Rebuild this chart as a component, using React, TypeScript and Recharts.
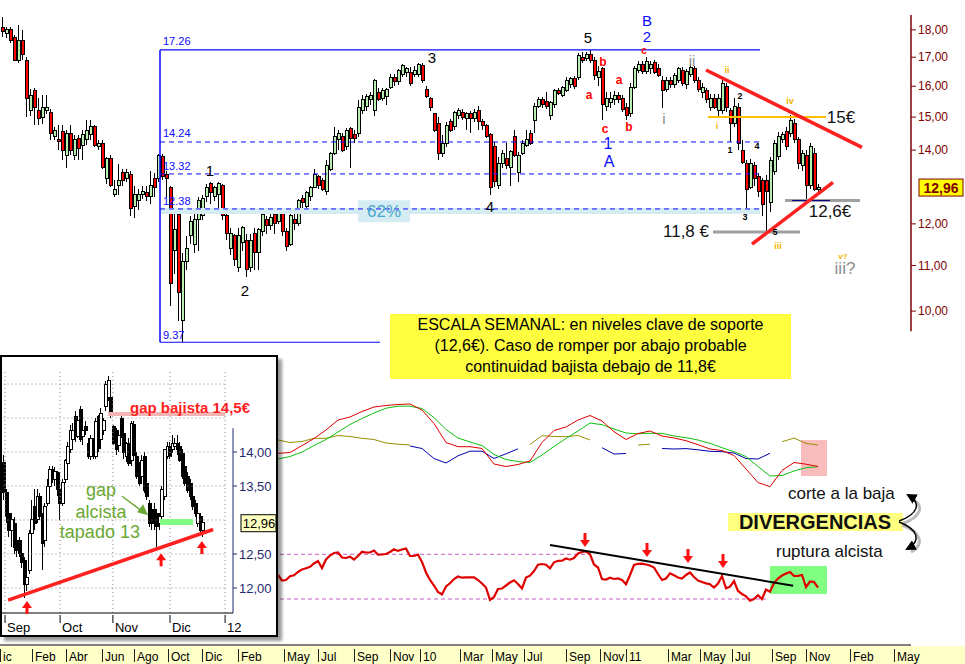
import React from 'react'
import {
  Bar,
  ComposedChart,
  Line,
  ReferenceArea,
  ReferenceDot,
  ReferenceLine,
  XAxis,
  YAxis,
} from 'recharts'

const FONT = "'Liberation Sans', Arial, sans-serif"
const NARROW = "'Liberation Sans Narrow', 'Arial Narrow', 'Liberation Sans', Arial, sans-serif"

// weekly candles, one per week (index = week)
const weekOpen = [
  18.1, 17.85, 18.0, 17.7, 16.9, 17.6, 16.9, 15.2, 15.85, 15.2,
  15.0, 15.2, 15.15, 14.4, 14.3, 14.55, 13.85, 14.5, 13.85, 14.35,
  14.15, 14.3, 14.45, 14.7, 14.1, 14.2, 13.2, 13.75, 12.75, 13.0,
  13.35, 13.2, 13.3, 12.45, 12.6, 12.75, 12.8, 12.7, 13.2, 13.2,
  13.8, 13.3, 12.95, 11.35, 12.25, 9.8, 11.1, 11.7, 11.5, 12.1,
  12.2, 12.7, 13.05, 12.7, 12.75, 13.0, 12.2, 11.4, 11.7, 10.95,
  11.55, 11.6, 10.95, 11.75, 11.3, 11.8, 12.1, 11.95, 12.25, 12.05,
  12.35, 11.8, 11.5, 12.1, 12.0, 12.65, 12.45, 12.7, 12.95, 13.25,
  13.15, 12.85, 13.45, 13.9, 14.3, 14.4, 14.1, 14.65, 14.45, 14.5,
  15.2, 15.35, 15.55, 15.2, 15.8, 15.6, 15.65, 15.95, 16.3, 16.15,
  16.4, 16.45, 16.45, 16.4, 16.4, 16.7, 15.9, 15.6, 15.1, 14.8,
  13.9, 14.2, 14.85, 14.7, 15.05, 15.15, 14.95, 15.1, 14.95, 15.2,
  14.85, 14.75, 14.45, 14.1, 13.0, 13.6, 13.75, 13.5, 14.4, 13.35,
  13.9, 14.15, 14.5, 14.9, 15.35, 15.55, 15.5, 15.05, 15.4, 15.85,
  15.7, 15.85, 16.05, 16.25, 16.3, 17.0, 16.95, 17.1, 16.9, 16.3,
  16.6, 15.35, 15.45, 15.55, 15.7, 15.6, 15.3, 15.1, 15.95, 16.55,
  16.75, 16.5, 16.6, 16.8, 16.6, 16.2, 15.9, 16.2, 16.05, 16.2,
  16.55, 16.05, 16.4, 16.6, 16.2, 15.8, 15.85, 15.3, 15.6, 15.2,
  15.2, 16.0, 15.2, 14.8, 15.3, 14.0, 13.6, 12.95, 13.55, 13.25,
  13.15, 13.15, 12.55, 13.4, 13.8, 14.3, 14.55, 14.5, 14.8, 14.3,
  13.55, 13.85, 13.0, 13.9, 12.9,
]
const weekHigh = [
  18.5, 18.1, 18.1, 17.8, 18.2, 18.0, 17.0, 15.9, 15.95, 15.6,
  15.7, 15.7, 15.25, 14.7, 14.75, 14.75, 14.6, 14.75, 14.45, 14.45,
  14.6, 14.9, 14.9, 14.75, 14.3, 14.3, 13.8, 13.85, 13.15, 13.6,
  13.45, 13.45, 13.4, 13.0, 12.9, 13.0, 13.0, 13.4, 13.35, 13.9,
  13.9, 13.4, 13.0, 12.4, 12.35, 11.3, 11.7, 12.2, 12.25, 12.7,
  12.75, 13.05, 13.1, 13.0, 13.1, 13.05, 12.25, 11.9, 11.75, 11.9,
  11.95, 11.75, 11.75, 11.9, 11.9, 12.3, 12.2, 12.25, 12.35, 12.4,
  12.4, 11.9, 12.25, 12.25, 12.65, 12.75, 12.85, 13.0, 13.45, 13.3,
  13.2, 13.7, 13.95, 14.7, 14.6, 14.5, 14.65, 14.7, 14.6, 15.55,
  15.7, 15.75, 15.8, 16.25, 15.95, 15.95, 15.95, 16.4, 16.4, 16.6,
  16.75, 16.65, 16.65, 16.7, 16.8, 16.8, 16.0, 15.65, 15.1, 15.0,
  14.45, 14.85, 14.95, 15.2, 15.3, 15.25, 15.15, 15.2, 15.25, 15.35,
  14.95, 14.8, 14.5, 14.25, 13.8, 14.0, 14.2, 14.0, 14.6, 13.95,
  14.3, 14.6, 14.6, 15.45, 15.65, 15.65, 15.8, 15.5, 15.9, 15.95,
  16.0, 16.3, 16.3, 16.35, 17.15, 17.2, 17.2, 17.26, 17.0, 16.7,
  16.65, 15.8, 15.8, 15.85, 15.8, 15.7, 15.45, 16.1, 16.7, 16.85,
  16.85, 17.0, 16.85, 16.9, 16.75, 16.35, 16.3, 16.3, 16.45, 16.65,
  16.65, 16.6, 16.75, 16.7, 16.3, 16.1, 15.95, 15.75, 15.75, 15.75,
  16.2, 16.1, 15.3, 15.6, 15.45, 14.3, 13.7, 13.75, 13.65, 13.35,
  13.2, 13.3, 13.8, 14.3, 14.55, 14.55, 14.7, 15.07, 14.95, 14.4,
  14.0, 14.0, 14.2, 14.05, 13.05,
]
const weekLow = [
  17.75, 17.7, 17.5, 16.85, 16.8, 16.9, 15.0, 15.05, 14.75, 14.75,
  14.8, 15.1, 14.3, 14.3, 14.0, 13.7, 13.5, 13.85, 13.7, 13.7,
  13.7, 14.15, 14.3, 14.1, 14.0, 13.45, 13.05, 12.95, 12.7, 12.75,
  13.0, 13.1, 12.2, 12.15, 12.35, 12.65, 12.6, 12.5, 12.7, 13.1,
  13.15, 12.7, 10.1, 10.8, 9.8, 9.37, 10.9, 11.5, 11.3, 11.35,
  12.1, 12.55, 12.5, 12.6, 12.35, 12.1, 11.6, 11.25, 11.0, 10.85,
  11.35, 10.75, 10.85, 10.9, 10.9, 11.7, 11.75, 11.85, 11.75, 12.0,
  11.7, 11.35, 11.45, 11.85, 11.95, 12.4, 12.35, 12.6, 12.95, 12.9,
  12.85, 12.75, 13.4, 13.85, 14.0, 13.95, 14.0, 13.5, 14.2, 14.4,
  15.1, 15.2, 15.4, 15.05, 15.5, 15.5, 15.4, 15.9, 16.0, 16.05,
  16.3, 16.3, 16.0, 16.3, 16.3, 16.1, 15.6, 15.2, 14.55, 13.7,
  13.8, 14.1, 14.55, 14.6, 14.95, 14.9, 14.6, 14.5, 14.85, 14.6,
  14.6, 14.35, 12.75, 12.95, 12.9, 13.5, 13.45, 13.0, 13.8, 13.1,
  13.85, 14.1, 14.15, 14.5, 15.3, 15.3, 15.25, 14.9, 15.3, 15.7,
  15.65, 15.8, 15.95, 15.9, 16.2, 16.8, 16.85, 16.8, 16.2, 16.0,
  14.9, 15.2, 15.3, 15.4, 15.45, 15.15, 14.9, 15.0, 15.9, 16.45,
  16.4, 16.4, 16.4, 16.4, 16.3, 15.3, 15.8, 15.95, 15.95, 16.1,
  16.0, 15.9, 16.3, 16.1, 15.8, 15.6, 15.45, 15.2, 15.25, 15.0,
  15.1, 15.15, 14.25, 14.7, 14.0, 13.6, 12.35, 12.9, 13.0, 12.7,
  12.2, 11.8, 12.3, 13.3, 13.7, 14.2, 14.0, 14.4, 14.2, 13.45,
  13.4, 12.6, 12.9, 12.85, 12.8,
]
const weekClose = [
  17.95, 18.0, 17.6, 16.9, 17.6, 17.1, 15.6, 15.7, 15.3, 14.95,
  15.3, 15.3, 14.5, 14.6, 14.25, 14.0, 14.5, 14.0, 14.3, 14.05,
  14.45, 14.6, 14.7, 14.15, 14.2, 13.5, 13.75, 13.0, 12.9, 13.15,
  13.15, 13.35, 12.4, 12.75, 12.75, 12.85, 12.7, 13.0, 12.95, 13.85,
  13.25, 13.2, 10.6, 11.85, 10.4, 11.1, 11.4, 12.05, 12.1, 12.6,
  12.65, 12.95, 12.8, 12.95, 13.05, 12.2, 11.75, 11.75, 11.15, 11.7,
  11.9, 10.9, 11.6, 11.3, 11.85, 12.25, 11.95, 12.15, 12.0, 12.35,
  11.8, 11.45, 12.2, 12.0, 12.6, 12.55, 12.8, 12.95, 13.3, 13.0,
  12.9, 13.55, 13.9, 14.4, 14.5, 14.0, 14.6, 14.35, 14.35, 15.3,
  15.55, 15.65, 15.7, 16.2, 15.55, 15.85, 15.9, 16.3, 16.15, 16.55,
  16.7, 16.6, 16.1, 16.55, 16.75, 16.2, 15.65, 15.3, 14.6, 13.9,
  14.2, 14.75, 14.6, 15.15, 15.2, 15.0, 15.1, 14.95, 15.15, 14.85,
  14.75, 14.4, 12.95, 13.1, 13.6, 13.9, 13.55, 13.95, 13.85, 13.85,
  14.2, 14.3, 14.2, 15.35, 15.55, 15.4, 15.35, 15.45, 15.85, 15.75,
  15.95, 16.2, 16.25, 16.0, 17.05, 16.9, 17.1, 16.9, 16.35, 16.5,
  15.4, 15.6, 15.6, 15.7, 15.55, 15.25, 15.05, 15.95, 16.6, 16.75,
  16.5, 16.85, 16.75, 16.45, 16.35, 15.85, 16.2, 16.05, 16.35, 16.6,
  16.1, 16.5, 16.65, 16.2, 15.9, 15.95, 15.55, 15.6, 15.3, 15.6,
  16.1, 15.3, 14.8, 15.35, 14.2, 13.65, 12.9, 13.6, 13.2, 12.85,
  12.5, 12.85, 13.7, 14.2, 14.4, 14.45, 14.1, 14.9, 14.3, 13.6,
  13.9, 13.0, 14.1, 12.9, 12.96,
]

// 13,00 is hidden behind the last-price tag in the reference
const priceTicks = [10, 11, 12, 14, 15, 16, 17, 18]
const lastPrice = 12.96

// bottom date axis (positions in weeks)
const monthTicks = [-0.5, 7.5, 16, 25, 33, 41.5, 50, 59, 70.5, 79, 88, 97, 104.5, 114.5, 122.5, 130.5, 141, 149.5, 156, 166.5, 174.5, 182.5, 192.5, 201, 212, 223]
const monthLabels = ['ic', 'Feb', 'Abr', 'Jun', 'Ago', 'Oct', 'Dic', 'Feb', 'May', 'Jul', 'Sep', 'Nov', '10', 'Mar', 'May', 'Jul', 'Sep', 'Nov', '11', 'Mar', 'May', 'Jul', 'Sep', 'Nov', 'Feb', 'May']

// moving averages panel, sampled every 3 weeks
const maWeeks = [69, 72, 75, 78, 81, 84, 87, 90, 93, 96, 99, 102, 105, 108, 111, 114, 117, 120, 123, 126, 129, 132, 135, 138, 141, 144, 147, 150, 153, 156, 159, 162, 165, 168, 171, 174, 177, 180, 183, 186, 189, 192, 195, 198, 201, 204]
const maFast = [46.7, 47.5, 54.4, 61.5, 70, 80, 83, 88.5, 93, 94.5, 95.5, 96, 90, 76.5, 57.5, 53.3, 53.3, 51.5, 36, 33.5, 35.5, 39, 57.5, 69.5, 73, 80, 84.5, 79, 68.3, 60.5, 66.5, 69, 64, 62, 59.3, 55.3, 51, 49.5, 44.5, 31, 17.5, 13.3, 29.5, 37.5, 35.8, 33.5]
const maSlow = [41, 43.5, 48, 54.5, 60.5, 68, 75.5, 81.5, 87, 91.8, 93.8, 93.8, 91.5, 82.5, 70.5, 62, 58, 54.5, 45.5, 40.5, 38.5, 37.5, 45, 53.5, 61.5, 69, 77, 75.3, 71, 67, 66.2, 66.7, 66.7, 64, 62.3, 60, 56.7, 52.3, 48.3, 43.5, 33.5, 24, 24.5, 29, 32.3, 33.3]
const maLongUp = [60, 57.5, 58.5, 61.7, 61.7, 64.5, 63.5, 61.7, 60.5, 57, 55.8, 55, null, null, null, null, null, null, null, null, null, 55.5, 64.3, 63.5, 63.3, 64.5, 60, null, null, null, 55, 55.7, null, null, null, null, null, null, null, null, null, null, 58.3, 61.9, 56.6, 55]
const maLongDown = [null, null, null, null, null, null, null, null, null, null, null, 54, 51.5, 41.5, 37, 44.2, 48.8, 48.8, 41.5, 46.2, 51.2, null, null, null, null, null, null, 52.3, 46, 46.5, null, null, 51.5, 51, 51.4, 50.2, 48.7, 48.3, 47, 41.5, 41, 46.7, null, null, null, null]

// oscillator, one value per week from week 69
const OSC_FIRST_WEEK = 69
const oscValues = [
  70, 64.5, 65, 68.8, 69.7, 73, 75.6, 76.7, 78.2, 81.5,
  84, 77, 85.5, 89.5, 92, 92.5, 87.5, 87, 88.3, 85.5,
  89, 93.2, 92.5, 92.5, 94.5, 90.3, 90.6, 91, 93, 95.7,
  94.1, 95.5, 96.5, 89, 89, 90.5, 83, 72.5, 65, 59.5,
  53, 50.5, 58.5, 61.7, 66, 68.5, 67.3, 67.7, 67.7, 67.7,
  65, 61.5, 57.5, 45, 48, 56, 56.5, 59.5, 62.5, 64.7,
  61, 56.5, 67.5, 69.3, 74, 80.3, 81, 80.3, 76.7, 82.7,
  84.2, 84.3, 86.5, 85.3, 87, 91.5, 93, 93.5, 90.7, 80.5,
  77.5, 66, 65.5, 67.3, 66, 66.5, 65, 60.8, 70, 80,
  81.2, 81.3, 80.5, 79.5, 77.5, 71, 65, 66.5, 71.7, 69.7,
  67.5, 66.5, 70, 72.5, 68, 64.5, 63, 61.6, 60.7, 57.5,
  61.5, 69, 56.7, 58.3, 64, 54, 51, 48.7, 44.3, 46,
  49.8, 46, 55.5, 53.3, 62, 66.5, 69.5, 71.5, 73, 69,
  69.2, 70, 58, 63.5, 63, 57.3,
]
const oscLevels = [90.7, 46]

// inset: daily candles Sep - Dec 2011
const insetOpen = [
  13.85, 13.4, 13.1, 12.85, 12.95, 12.7, 12.7, 12.5, 12.4, 12.05,
  12.25, 12.8, 13.2, 13.0, 13.35, 13.05, 12.7, 13.25, 13.5, 13.75,
  13.6, 13.7, 13.45, 13.25, 13.6, 13.83, 14.03, 14.18, 14.52, 14.23,
  14.62, 14.23, 14.37, 14.13, 13.93, 14.15, 13.93, 14.52, 14.18, 14.32,
  14.67, 14.8, 14.8, 14.37, 14.32, 14.1, 14.5, 14.27, 13.93, 14.13,
  13.88, 14.4, 13.93, 13.78, 13.64, 13.93, 13.54, 13.25, 13.15, 13.15,
  13.1, 12.95, 13.05, 13.34, 13.93, 14.08, 14.03, 14.08, 14.13, 14.08,
  13.98, 13.78, 13.64, 13.54, 13.34, 13.25, 12.95, 13.05, 12.85,
]
const insetHigh = [
  13.95, 13.45, 13.25, 13.1, 13.05, 12.8, 12.75, 12.6, 12.45, 12.2,
  12.85, 13.3, 13.45, 13.45, 13.4, 13.1, 13.25, 13.6, 13.8, 13.8,
  13.78, 13.72, 13.5, 13.6, 13.9, 14.15, 14.4, 14.42, 14.6, 14.52,
  14.68, 14.35, 14.45, 14.2, 14.25, 14.2, 14.5, 14.55, 14.65, 14.5,
  15.05, 15.12, 14.85, 14.4, 14.35, 14.3, 14.55, 14.3, 14.15, 14.2,
  14.45, 14.45, 14.0, 13.85, 13.95, 14.0, 13.6, 13.3, 13.2, 13.25,
  13.15, 13.1, 13.5, 14.05, 14.15, 14.15, 14.25, 14.2, 14.25, 14.15,
  14.05, 13.85, 13.7, 13.6, 13.4, 13.3, 13.15, 13.1, 13.0,
]
const insetLow = [
  13.3, 12.95, 12.75, 12.6, 12.5, 12.45, 12.45, 12.3, 11.85, 11.95,
  12.2, 12.75, 12.85, 12.95, 13.0, 12.26, 12.6, 13.2, 13.45, 13.55,
  13.5, 13.35, 13.0, 13.2, 13.55, 13.8, 13.98, 14.1, 14.15, 14.2,
  14.15, 14.1, 14.25, 13.9, 13.88, 13.9, 13.9, 14.0, 14.1, 14.25,
  14.6, 14.75, 14.5, 14.1, 13.95, 14.0, 14.2, 13.9, 13.85, 13.8,
  13.8, 13.9, 13.6, 13.5, 13.55, 13.4, 13.3, 12.9, 12.85, 12.85,
  12.6, 12.85, 12.95, 13.3, 13.9, 13.9, 13.98, 14.05, 13.95, 13.85,
  13.6, 13.5, 13.4, 13.3, 13.15, 13.05, 12.9, 12.8, 12.75,
]
const insetClose = [
  13.4, 13.05, 12.85, 13.0, 12.6, 12.55, 12.5, 12.38, 12.05, 12.15,
  12.8, 13.0, 12.95, 13.35, 13.05, 12.66, 13.2, 13.5, 13.75, 13.6,
  13.72, 13.45, 13.25, 13.55, 13.88, 14.08, 14.32, 14.32, 14.23, 14.47,
  14.18, 14.32, 14.32, 13.93, 14.2, 13.93, 14.45, 14.05, 14.57, 14.47,
  15.0, 15.05, 14.57, 14.13, 14.03, 14.25, 14.23, 14.0, 14.13, 13.83,
  14.42, 13.95, 13.64, 13.54, 13.88, 13.44, 13.34, 12.95, 12.95, 12.95,
  12.9, 13.05, 13.45, 14.03, 14.08, 13.93, 14.13, 14.13, 14.03, 13.88,
  13.64, 13.54, 13.44, 13.34, 13.2, 13.1, 13.1, 12.85, 12.96,
]
const insetPriceTicks = [12, 12.5, 13.5, 14]
const insetGridPrices = [12, 12.5, 13, 13.5, 14, 14.5, 15]
const insetMonthTicks = [0.6, 22.2, 42.9, 65.3, 86.9]
const insetMonthLabels = ['Sep', 'Oct', 'Nov', 'Dic', '12']

// chart tables
const candleData = weekOpen.map((open, i) => ({
  week: i,
  open,
  high: weekHigh[i],
  low: weekLow[i],
  close: weekClose[i],
  range: [weekLow[i], weekHigh[i]],
}))
const maData = maWeeks.map((week, i) => ({
  week,
  fast: maFast[i],
  slow: maSlow[i],
  up: maLongUp[i],
  down: maLongDown[i],
}))
const oscData = oscValues.map((v, k) => ({ week: OSC_FIRST_WEEK + k, v }))
const insetData = insetOpen.map((open, i) => ({
  day: i,
  open,
  high: insetHigh[i],
  low: insetLow[i],
  close: insetClose[i],
  range: [insetLow[i], insetHigh[i]],
}))

const X_DOMAIN: [number, number] = [-0.5, 227.25]
const fmt = (v: number) => v.toFixed(2).replace('.', ',')

function WeeklyCandle(props: any) {
  const { x, y, width, height, payload } = props
  if (x == null || !payload) return null
  const top = Math.min(y, y + height)
  const bottom = Math.max(y, y + height)
  const lh = Math.log(payload.high)
  const ll = Math.log(payload.low)
  const span = lh - ll || 1
  const toY = (v: number) => top + ((lh - Math.log(v)) / span) * (bottom - top)
  const cx = Math.round(x + width / 2)
  const up = payload.close >= payload.open
  const b1 = toY(Math.max(payload.open, payload.close))
  const b2 = toY(Math.min(payload.open, payload.close))
  return (
    <g shapeRendering="crispEdges">
      <line x1={cx + 0.5} x2={cx + 0.5} y1={top} y2={bottom} stroke="#000" />
      <rect x={cx - 1} y={b1} width={3} height={Math.max(1, b2 - b1)} fill={up ? '#b6efb0' : '#ff0000'} stroke="#000" />
    </g>
  )
}

function DailyCandle(props: any) {
  const { x, y, width, height, payload } = props
  if (x == null || !payload) return null
  const top = Math.min(y, y + height)
  const bottom = Math.max(y, y + height)
  const span = payload.high - payload.low || 1
  const toY = (v: number) => top + ((payload.high - v) / span) * (bottom - top)
  const cx = Math.round(x + width / 2)
  const up = payload.close >= payload.open
  const b1 = toY(Math.max(payload.open, payload.close))
  const b2 = toY(Math.min(payload.open, payload.close))
  return (
    <g shapeRendering="crispEdges">
      <line x1={cx + 0.5} x2={cx + 0.5} y1={top} y2={bottom} stroke="#000" />
      <rect x={cx - 1} y={b1} width={3} height={Math.max(1, b2 - b1)} fill={up ? '#fff' : '#000'} stroke="#000" />
    </g>
  )
}

function DateTick(props: any) {
  const { x, y, payload } = props
  const label = monthLabels[monthTicks.indexOf(payload.value)]
  return (
    <g>
      <line x1={x + 0.5} x2={x + 0.5} y1={y + 2} y2={y + 15} stroke="#222" />
      <text x={x + 3} y={y + 14} fontSize={12} fontFamily={NARROW} fill="#000">{label}</text>
    </g>
  )
}

function InsetTick(props: any) {
  const { x, y, payload } = props
  const label = insetMonthLabels[insetMonthTicks.indexOf(payload.value)]
  return (
    <g>
      <line x1={x} x2={x} y1={y} y2={y + 8} stroke="#000" />
      <text x={x + 2} y={y + 17} fontSize={13} fontFamily={FONT} fill="#000">{label}</text>
    </g>
  )
}

const textShape = (text: string, color: string, size: number, weight = 'normal', anchor = 'middle') =>
  (p: any) => (
    <text x={p.cx} y={p.cy} fill={color} fontSize={size} fontWeight={weight} textAnchor={anchor} dominantBaseline="central" fontFamily={FONT}>
      {text}
    </text>
  )

const downArrow = (p: any) => (
  <g fill="#ff1010">
    <rect x={p.cx - 1.5} y={p.cy - 14} width={3} height={8} />
    <polygon points={`${p.cx - 5},${p.cy - 7} ${p.cx + 5},${p.cy - 7} ${p.cx},${p.cy}`} />
  </g>
)
const upArrow = (p: any) => (
  <g fill="#ff1010">
    <rect x={p.cx - 1.5} y={p.cy + 6} width={3} height={7} />
    <polygon points={`${p.cx - 5},${p.cy + 7} ${p.cx + 5},${p.cy + 7} ${p.cx},${p.cy}`} />
  </g>
)
const greenArrow = (p: any) => (
  <g stroke="#6aa832" fill="#6aa832">
    <line x1={p.cx - 26} y1={p.cy - 19} x2={p.cx - 6} y2={p.cy - 4} strokeWidth={1.5} />
    <polygon points={`${p.cx},${p.cy} ${p.cx - 11},${p.cy - 3} ${p.cx - 5},${p.cy - 11}`} stroke="none" />
  </g>
)
const lastPriceTag = (p: any) => (
  <g>
    <rect x={p.cx + 8} y={p.cy - 8} width={44} height={17} fill="#ffff00" stroke="#800000" />
    <text x={p.cx + 30} y={p.cy + 1} textAnchor="middle" dominantBaseline="central" fontSize={14} fontWeight="bold" fill="#800000" fontFamily={FONT}>{fmt(lastPrice)}</text>
  </g>
)
const insetPriceTag = (p: any) => (
  <g>
    <rect x={p.cx + 8} y={p.cy - 8} width={35} height={17} fill="#ffffc0" stroke="#000" />
    <text x={p.cx + 26} y={p.cy + 1} textAnchor="middle" dominantBaseline="central" fontSize={13} fill="#000" fontFamily={FONT}>{fmt(lastPrice)}</text>
  </g>
)

const BLUE = '#0a0aff'
const GRAY = '#8c8c8c'
const GOLD = '#f2b600'
const RED = '#ff0000'

const mainLabels = [
  { week: 52, price: 13.42, text: '1', color: '#000', size: 15, weight: 'normal' },
  { week: 60.75, price: 10.45, text: '2', color: '#000', size: 15, weight: 'normal' },
  { week: 107.5, price: 17.0, text: '3', color: '#000', size: 15, weight: 'normal' },
  { week: 122, price: 12.45, text: '4', color: '#000', size: 15, weight: 'normal' },
  { week: 146.5, price: 17.7, text: '5', color: '#000', size: 15, weight: 'normal' },
  { week: 161.25, price: 18.34, text: 'B', color: BLUE, size: 15, weight: 'normal' },
  { week: 161.25, price: 17.74, text: '2', color: BLUE, size: 15, weight: 'normal' },
  { week: 160.5, price: 17.25, text: 'c', color: RED, size: 10, weight: 'bold' },
  { week: 150.25, price: 16.83, text: 'b', color: RED, size: 12, weight: 'bold' },
  { week: 146.75, price: 15.71, text: 'a', color: RED, size: 12, weight: 'bold' },
  { week: 154.25, price: 16.21, text: 'a', color: RED, size: 12, weight: 'bold' },
  { week: 150.75, price: 14.63, text: 'c', color: RED, size: 12, weight: 'bold' },
  { week: 156.75, price: 14.69, text: 'b', color: RED, size: 12, weight: 'bold' },
  { week: 151.5, price: 14.2, text: '1', color: BLUE, size: 16, weight: 'normal' },
  { week: 151.75, price: 13.68, text: 'A', color: BLUE, size: 16, weight: 'normal' },
  { week: 172.5, price: 16.9, text: 'ii', color: GRAY, size: 15, weight: 'normal' },
  { week: 165.5, price: 14.96, text: 'i', color: GRAY, size: 15, weight: 'normal' },
  { week: 181.25, price: 16.55, text: 'ii', color: GOLD, size: 9, weight: 'bold' },
  { week: 178.75, price: 14.72, text: 'i', color: GOLD, size: 9, weight: 'bold' },
  { week: 182, price: 14.0, text: '1', color: '#000', size: 9, weight: 'bold' },
  { week: 184.5, price: 15.67, text: '2', color: '#000', size: 9, weight: 'bold' },
  { week: 185.75, price: 12.17, text: '3', color: '#000', size: 9, weight: 'bold' },
  { week: 188.75, price: 14.11, text: '4', color: '#000', size: 9, weight: 'bold' },
  { week: 193.25, price: 11.79, text: '5', color: '#000', size: 9, weight: 'bold' },
  { week: 194, price: 11.46, text: 'iii', color: GOLD, size: 9, weight: 'bold' },
  { week: 197, price: 15.51, text: 'iv', color: GOLD, size: 9, weight: 'bold' },
  { week: 210.25, price: 11.22, text: 'v?', color: GOLD, size: 8, weight: 'bold' },
  { week: 210.75, price: 10.94, text: 'iii?', color: GRAY, size: 17, weight: 'normal' },
  { week: 209.75, price: 14.99, text: '15€', color: '#111', size: 17, weight: 'normal' },
  { week: 207, price: 12.32, text: '12,6€', color: '#111', size: 17, weight: 'normal' },
  { week: 171, price: 11.8, text: '11,8 €', color: '#111', size: 17, weight: 'normal' },
]

const fibLevels = [17.26, 14.24, 13.32, 12.38, 9.37]
const fibLabelPrices = [17.59, 14.5, 13.54, 12.58, 9.51]

function MainChart() {
  return (
    <ComposedChart width={965} height={360} data={candleData} margin={{ top: 4, right: 0, bottom: 9, left: 0 }}>
      <XAxis type="number" dataKey="week" domain={X_DOMAIN} hide allowDataOverflow />
      <YAxis
        orientation="right"
        scale="log"
        domain={[9.2, 19]}
        ticks={priceTicks}
        interval={0}
        allowDataOverflow
        width={54}
        axisLine={false}
        tickSize={5}
        tickLine={{ stroke: '#800000' }}
        tick={{ fill: '#800000', fontSize: 12, fontFamily: FONT }}
        tickFormatter={fmt}
      />
      <ReferenceLine segment={[{ x: 227.25, y: 18.57 }, { x: 227.25, y: 9.59 }]} stroke="#800000" strokeWidth={1.5} />
      <ReferenceLine segment={[{ x: 39.5, y: 12.33 }, { x: 189.5, y: 12.33 }]} stroke="#d6ecf3" strokeWidth={6} />
      <ReferenceArea x1={89} x2={102} y1={12.04} y2={12.61} fill="#d5ecf3" fillOpacity={1} stroke="none" />
      <ReferenceDot x={95.5} y={12.32} r={0} shape={textShape('62%', '#4aa8cc', 17)} />
      <ReferenceLine segment={[{ x: 39.5, y: 17.26 }, { x: 189.5, y: 17.26 }]} stroke={BLUE} strokeWidth={1.2} />
      {fibLevels.slice(1, 4).map((lv) => (
        <ReferenceLine key={lv} segment={[{ x: 39.5, y: lv }, { x: 189.5, y: lv }]} stroke={BLUE} strokeDasharray="5 4" />
      ))}
      <ReferenceLine segment={[{ x: 39.5, y: 9.37 }, { x: 94.5, y: 9.37 }]} stroke={BLUE} strokeWidth={1.2} />
      <ReferenceLine segment={[{ x: 39.5, y: 9.37 }, { x: 39.5, y: 17.26 }]} stroke={BLUE} strokeWidth={1.5} />
      {fibLevels.map((lv, k) => (
        <ReferenceDot key={'f' + lv} x={40.25} y={fibLabelPrices[k]} r={0} shape={textShape(lv.toFixed(2), BLUE, 11, 'normal', 'start')} />
      ))}
      <Bar dataKey="range" barSize={3} shape={WeeklyCandle} isAnimationActive={false} />
      <ReferenceLine segment={[{ x: 176.5, y: 15.0 }, { x: 206, y: 15.0 }]} stroke="#ffc000" strokeWidth={2} />
      <ReferenceLine segment={[{ x: 195.75, y: 12.6 }, { x: 214.5, y: 12.6 }]} stroke="#a0a0a0" strokeWidth={3} />
      <ReferenceLine segment={[{ x: 197.5, y: 12.6 }, { x: 207, y: 12.6 }]} stroke="#000080" strokeWidth={1} />
      <ReferenceLine segment={[{ x: 177.75, y: 11.8 }, { x: 199.5, y: 11.8 }]} stroke="#a0a0a0" strokeWidth={3} />
      <ReferenceLine segment={[{ x: 176, y: 16.55 }, { x: 215, y: 14.08 }]} stroke="#ff2020" strokeWidth={3.5} />
      <ReferenceLine segment={[{ x: 187.5, y: 11.5 }, { x: 207.75, y: 13.09 }]} stroke="#ff2020" strokeWidth={3.5} />
      {mainLabels.map((l, k) => (
        <ReferenceDot key={'l' + k} x={l.week} y={l.price} r={0} shape={textShape(l.text, l.color, l.size, l.weight)} />
      ))}
      <ReferenceDot x={227.25} y={lastPrice} r={0} shape={lastPriceTag} />
    </ComposedChart>
  )
}

function AverageChart() {
  return (
    <ComposedChart width={965} height={120} data={maData} margin={{ top: 10, right: 54, bottom: 10, left: 0 }}>
      <XAxis type="number" dataKey="week" domain={X_DOMAIN} hide allowDataOverflow />
      <YAxis domain={[0, 100]} hide allowDataOverflow />
      <ReferenceArea x1={199.75} x2={206.25} y1={24} y2={60} fill="#f9bcbc" fillOpacity={1} stroke="none" />
      <Line dataKey="up" stroke="#9a9000" strokeWidth={1} dot={false} isAnimationActive={false} />
      <Line dataKey="down" stroke="#0000b0" strokeWidth={1} dot={false} isAnimationActive={false} />
      <Line dataKey="slow" stroke="#10c010" strokeWidth={1} dot={false} isAnimationActive={false} />
      <Line dataKey="fast" stroke="#e00000" strokeWidth={1} dot={false} isAnimationActive={false} />
    </ComposedChart>
  )
}

function OscillatorChart() {
  return (
    <ComposedChart width={965} height={144} data={oscData} margin={{ top: 10, right: 54, bottom: 0, left: 0 }}>
      <XAxis
        type="number"
        dataKey="week"
        domain={X_DOMAIN}
        allowDataOverflow
        ticks={monthTicks}
        interval={0}
        height={19}
        tickSize={0}
        tickLine={false}
        axisLine={{ stroke: '#000' }}
        tick={<DateTick />}
      />
      <YAxis domain={[0, 115]} hide allowDataOverflow />
      <ReferenceArea x1={192} x2={206.25} y1={51} y2={79} fill="#80ff80" fillOpacity={1} stroke="none" />
      <ReferenceLine segment={[{ x: -0.5, y: oscLevels[0] }, { x: 147, y: oscLevels[0] }]} stroke="#c060c0" strokeDasharray="4 3" />
      <ReferenceLine segment={[{ x: -0.5, y: oscLevels[1] }, { x: 191, y: oscLevels[1] }]} stroke="#c060c0" strokeDasharray="4 3" />
      <Line dataKey="v" stroke="#e00000" strokeWidth={2.2} dot={false} isAnimationActive={false} />
      <ReferenceLine segment={[{ x: 137, y: 100 }, { x: 197.8, y: 59.3 }]} stroke="#000" strokeWidth={2} />
      {[
        [145.75, 98],
        [161.25, 88],
        [171.5, 82],
        [180.25, 77],
      ].map(([w, v]) => (
        <ReferenceDot key={w} x={w} y={v} r={0} shape={downArrow} />
      ))}
    </ComposedChart>
  )
}

function InsetChart() {
  return (
    <ComposedChart width={274} height={278} data={insetData} margin={{ top: 5, right: 0, bottom: 0, left: 0 }}>
      <XAxis
        type="number"
        dataKey="day"
        domain={[-0.59, 90]}
        allowDataOverflow
        ticks={insetMonthTicks}
        interval={0}
        height={22}
        tickSize={0}
        tickLine={false}
        axisLine={{ stroke: '#000' }}
        tick={<InsetTick />}
      />
      <YAxis
        orientation="right"
        domain={[11.632, 15.324]}
        allowDataOverflow
        ticks={insetPriceTicks}
        interval={0}
        width={43}
        axisLine={false}
        tickSize={4}
        tickLine={{ stroke: '#1f2a6e' }}
        tick={{ fill: '#1f2a6e', fontSize: 13, fontFamily: FONT }}
        tickFormatter={fmt}
      />
      <ReferenceLine segment={[{ x: 90, y: 14.35 }, { x: 90, y: 11.632 }]} stroke="#1f2a6e" />
      {insetGridPrices.map((p) => (
        <ReferenceLine key={p} segment={[{ x: 0, y: p }, { x: 86.9, y: p }]} stroke="#888" strokeDasharray="1 3" />
      ))}
      {insetMonthTicks.map((d) => (
        <ReferenceLine key={'v' + d} segment={[{ x: d, y: 11.632 }, { x: d, y: 15.2 }]} stroke="#888" strokeDasharray="1 3" />
      ))}
      <ReferenceLine segment={[{ x: 41, y: 14.56 }, { x: 86.9, y: 14.56 }]} stroke="#f4b4b4" strokeWidth={4} />
      <ReferenceLine segment={[{ x: 61.4, y: 12.97 }, { x: 74.3, y: 12.97 }]} stroke="#80ff80" strokeWidth={6} />
      <Bar dataKey="range" barSize={3} shape={DailyCandle} isAnimationActive={false} />
      <ReferenceLine segment={[{ x: 1.8, y: 11.82 }, { x: 82.2, y: 12.86 }]} stroke="#ff2020" strokeWidth={3.5} />
      <ReferenceDot x={49.6} y={14.66} r={0} shape={textShape('gap bajista 14,5€', '#ff2020', 15, 'bold', 'start')} />
      <ReferenceDot x={38.2} y={13.44} r={0} shape={textShape('gap', '#6aa832', 18)} />
      <ReferenceDot x={38.2} y={13.12} r={0} shape={textShape('alcista', '#6aa832', 18)} />
      <ReferenceDot x={37.8} y={12.82} r={0} shape={textShape('tapado 13', '#6aa832', 18)} />
      <ReferenceDot x={56.7} y={13.07} r={0} shape={greenArrow} />
      {[
        [9.2, 11.81],
        [61.8, 12.51],
        [77.8, 12.69],
      ].map(([d, p]) => (
        <ReferenceDot key={d} x={d} y={p} r={0} shape={upArrow} />
      ))}
      <ReferenceDot x={90} y={lastPrice} r={0} shape={insetPriceTag} />
    </ComposedChart>
  )
}

function SideNotes() {
  return (
    <svg width={965} height={664} style={{ position: 'absolute', left: 0, top: 0, pointerEvents: 'none' }}>
      <defs>
        <marker id="ah" viewBox="0 0 10 10" refX="8" refY="5" markerWidth="7" markerHeight="7" orient="auto-start-reverse">
          <path d="M0,0 L10,5 L0,10 z" fill="#000" />
        </marker>
      </defs>
      <text x={788} y={493} fontSize={17} fontFamily={FONT} fill="#111" dominantBaseline="central">corte a la baja</text>
      <rect x={728} y={513} width={175} height={18} fill="#ffff80" />
      <text x={815} y={522} fontSize={20} fontWeight="bold" fontFamily={FONT} fill="#111" textAnchor="middle" dominantBaseline="central">DIVERGENCIAS</text>
      <text x={776} y={551} fontSize={17} fontFamily={FONT} fill="#111" dominantBaseline="central">ruptura alcista</text>
      <path d="M 902 524 C 921 517, 925 506, 912 499" stroke="#bbb" strokeWidth={3} fill="none" />
      <path d="M 902 525 C 921 532, 925 544, 911 552" stroke="#bbb" strokeWidth={3} fill="none" />
      <path d="M 899 521 C 918 514, 922 503, 908 495" stroke="#000" strokeWidth={1.5} fill="none" markerEnd="url(#ah)" />
      <path d="M 899 522 C 918 529, 922 541, 907 549" stroke="#000" strokeWidth={1.5} fill="none" markerEnd="url(#ah)" />
    </svg>
  )
}

export default function App() {
  return (
    <div style={{ position: 'relative', width: 965, height: 664, background: '#fff', overflow: 'hidden', fontFamily: FONT }}>
      <style>{'body{margin:0}'}</style>
      <div style={{ position: 'absolute', left: 0, top: 646, width: 965, height: 18, background: '#ffffc8' }} />
      <div style={{ position: 'absolute', left: 0, top: 0 }}>
        <MainChart />
      </div>
      <div style={{ position: 'absolute', left: 0, top: 390 }}>
        <AverageChart />
      </div>
      <div style={{ position: 'absolute', left: 0, top: 520 }}>
        <OscillatorChart />
      </div>
      <div
        style={{
          position: 'absolute',
          left: 390,
          top: 314,
          width: 401,
          height: 65,
          background: '#ffff40',
          textAlign: 'center',
          fontSize: 16,
          lineHeight: '21px',
          color: '#000',
          fontFamily: FONT,
        }}
      >
        ESCALA SEMANAL: en niveles clave de soporte
        <br />
        (12,6€). Caso de romper por abajo probable
        <br />
        continuidad bajista debajo de 11,8€
      </div>
      <SideNotes />
      <div
        style={{
          position: 'absolute',
          left: 0,
          top: 355,
          width: 278,
          height: 282,
          boxSizing: 'border-box',
          border: '2px solid #000',
          background: '#fff',
          boxShadow: '4px 4px 3px rgba(0,0,0,0.4)',
        }}
      >
        <InsetChart />
      </div>
    </div>
  )
}
